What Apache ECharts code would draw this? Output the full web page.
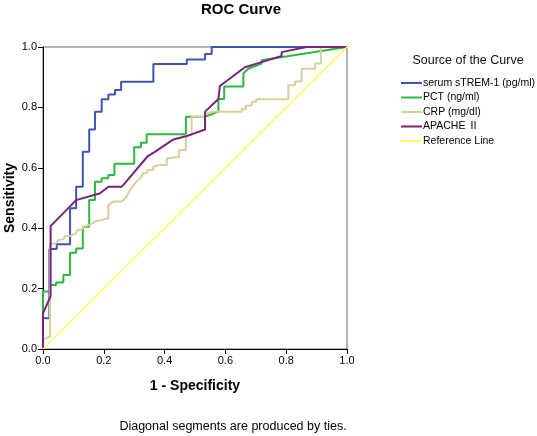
<!DOCTYPE html>
<html>
<head>
<meta charset="utf-8">
<script src="https://cdn.jsdelivr.net/npm/echarts@6/dist/echarts.min.js"></script>
<style>
html,body{margin:0;padding:0;background:#fff;}
#chart{width:537px;height:436px;}
</style>
</head>
<body>
<div id="chart"></div>
<script>
// [1 - Specificity, Sensitivity]
var strem1 = [[0,0],[0,0.102],[0.021,0.102],[0.021,0.331],[0.045,0.331],[0.045,0.347],[0.089,0.347],[0.089,0.466],[0.109,0.466],[0.109,0.537],[0.131,0.537],[0.131,0.653],[0.152,0.653],[0.152,0.727],[0.171,0.727],[0.171,0.786],[0.193,0.786],[0.193,0.827],[0.215,0.827],[0.215,0.843],[0.237,0.843],[0.237,0.858],[0.257,0.858],[0.257,0.885],[0.363,0.885],[0.363,0.944],[0.473,0.944],[0.473,0.959],[0.533,0.959],[0.533,0.977],[0.555,0.977],[0.555,1],[1,1]];
var pct = [[0,0],[0,0.190],[0.023,0.190],[0.023,0.212],[0.043,0.212],[0.043,0.220],[0.067,0.220],[0.067,0.245],[0.089,0.245],[0.089,0.319],[0.109,0.319],[0.109,0.333],[0.131,0.333],[0.131,0.405],[0.152,0.405],[0.152,0.493],[0.171,0.493],[0.171,0.554],[0.193,0.554],[0.193,0.565],[0.215,0.565],[0.215,0.576],[0.235,0.576],[0.235,0.613],[0.300,0.613],[0.300,0.668],[0.322,0.668],[0.322,0.683],[0.341,0.683],[0.341,0.711],[0.470,0.711],[0.470,0.769],[0.533,0.769],[0.577,0.786],[0.577,0.828],[0.596,0.828],[0.596,0.869],[0.659,0.869],[0.659,0.912],[0.675,0.928],[0.719,0.945],[0.719,0.956],[1,1]];
var crp = [[0,0],[0,0.030],[0.023,0.041],[0.023,0.348],[0.043,0.350],[0.050,0.361],[0.067,0.363],[0.072,0.374],[0.089,0.374],[0.109,0.383],[0.113,0.394],[0.127,0.396],[0.133,0.405],[0.152,0.411],[0.171,0.422],[0.193,0.427],[0.215,0.433],[0.215,0.477],[0.231,0.488],[0.259,0.488],[0.275,0.504],[0.286,0.526],[0.303,0.549],[0.319,0.565],[0.330,0.582],[0.341,0.582],[0.346,0.593],[0.363,0.593],[0.363,0.604],[0.385,0.609],[0.407,0.609],[0.407,0.631],[0.440,0.635],[0.448,0.635],[0.448,0.659],[0.470,0.659],[0.470,0.709],[0.489,0.709],[0.489,0.769],[0.533,0.769],[0.533,0.777],[0.555,0.786],[0.654,0.786],[0.654,0.795],[0.668,0.795],[0.668,0.806],[0.687,0.806],[0.687,0.819],[0.701,0.819],[0.701,0.827],[0.807,0.827],[0.807,0.873],[0.829,0.873],[0.829,0.886],[0.851,0.886],[0.851,0.928],[0.895,0.928],[0.895,0.945],[0.914,0.945],[0.914,1],[1,1]];
var apache2 = [[0,0],[0,0.118],[0.025,0.175],[0.025,0.407],[0.109,0.493],[0.188,0.516],[0.215,0.537],[0.259,0.537],[0.345,0.639],[0.368,0.653],[0.429,0.694],[0.473,0.705],[0.533,0.727],[0.533,0.786],[0.577,0.828],[0.582,0.871],[0.664,0.933],[0.719,0.950],[0.785,0.970],[0.785,0.983],[0.867,1],[1,1]];
var refLine = [[0,0],[1,1]];
var seriesNames = ['serum sTREM-1 (pg/ml)','PCT (ng/ml)','CRP (mg/dl)','APACHE Ⅱ','Reference Line'];
var seriesColors = ['#3d56b5','#2cb83c','#d6d09a','#7b2180','#ffff5a'];
var seriesData = [strem1, pct, crp, apache2, refLine];

var chart = echarts.init(document.getElementById('chart'));
var font = '"Liberation Sans", Arial, "Noto Sans CJK SC", sans-serif';
var series = seriesData.map(function(d, i){
  return {
    name: seriesNames[i], type: 'line', data: d, symbol: 'none', animation: false,
    lineStyle: {color: seriesColors[i], width: i === 4 ? 1.5 : 2},
    itemStyle: {color: seriesColors[i]}
  };
});
chart.setOption({
  animation: false,
  backgroundColor: '#fff',
  title: [
    {text: 'ROC Curve', left: 241, top: 2, textAlign: 'center', padding: 0,
     textStyle: {fontFamily: font, fontSize: 15, fontWeight: 'bold', color: '#000'}},
    {text: 'Source of the Curve', left: 468, top: 54, textAlign: 'center', padding: 0,
     textStyle: {fontFamily: font, fontSize: 12.5, fontWeight: 'normal', color: '#111'}}
  ],
  legend: {
    orient: 'vertical', left: 401, top: 76, padding: 0, icon: 'rect', itemWidth: 21, itemHeight: 2,
    itemGap: 0.5,
    textStyle: {fontFamily: font, fontSize: 10.5, color: '#000', lineHeight: 14, padding: [0,0,0,-4]},
    data: seriesNames
  },
  grid: {left: 43, top: 47, width: 304, height: 302, containLabel: false, outerBoundsMode: 'none',
         show: true, borderColor: '#666', borderWidth: 1, backgroundColor: 'transparent'},
  xAxis: {
    type: 'value', min: 0, max: 1, interval: 0.2,
    name: '1 - Specificity', nameLocation: 'middle', nameGap: 30,
    nameTextStyle: {fontFamily: font, fontSize: 14, fontWeight: 'bold', color: '#000'},
    axisLine: {lineStyle: {color: '#000', width: 1}},
    axisTick: {show: true, length: 5, lineStyle: {color: '#000'}},
    axisLabel: {fontFamily: font, fontSize: 11, color: '#000', margin: 6, formatter: function(v){return v.toFixed(1);}},
    splitLine: {show: false}
  },
  yAxis: {
    type: 'value', min: 0, max: 1, interval: 0.2,
    axisLine: {show: true, lineStyle: {color: '#000', width: 1}},
    axisTick: {show: true, length: 5, lineStyle: {color: '#000'}},
    axisLabel: {fontFamily: font, fontSize: 11, color: '#000', margin: 6, formatter: function(v){return v.toFixed(1);}},
    splitLine: {show: false}
  },
  graphic: [
    {type: 'text', x: 10, y: 198, rotation: Math.PI / 2,
     style: {text: 'Sensitivity', textAlign: 'center', textVerticalAlign: 'middle', font: 'bold 14px "Liberation Sans", Arial, sans-serif', fill: '#000'}},
    {type: 'text', x: 233, y: 427, style: {text: 'Diagonal segments are produced by ties.', textAlign: 'center', textVerticalAlign: 'middle', font: '12.5px "Liberation Sans", Arial, sans-serif', fill: '#000'}}
  ],
  series: series
});
</script>
</body>
</html>
